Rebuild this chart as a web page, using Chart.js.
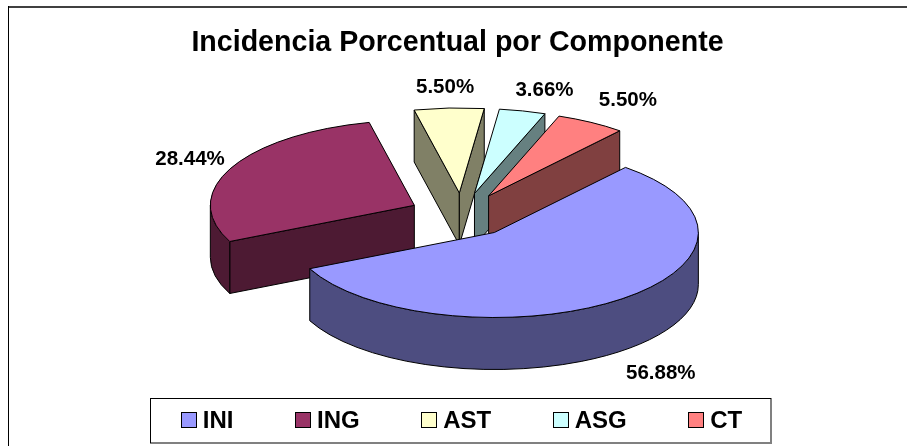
<!DOCTYPE html>
<html>
<head>
<meta charset="utf-8">
<style>html,body{margin:0;padding:0;background:#fff}canvas{display:block}</style>
<script src="https://cdn.jsdelivr.net/npm/chart.js@4"></script>
</head>
<body>
<canvas id="c" width="907" height="446"></canvas>
<script>
const categories = ['INI', 'ING', 'AST', 'ASG', 'CT'];
const percentValues = [56.88, 28.44, 5.50, 3.66, 5.50];
const sliceColors = ['#9999FF', '#993366', '#FFFFCC', '#CCFFFF', '#FF8080'];
const sideColors = ['#4D4D80', '#4D1A33', '#808066', '#668080', '#804040'];
const titleText = 'Incidencia Porcentual por Componente';

// back-to-front painting order of the slices
const paintOrder = [2, 3, 4, 1, 0];
// label placement relative to each slice's rim midpoint
const labelNudges = [[42, 73], [-41, -9], [-4, -21], [22, -21], [37, -22]];

// projection of the tilted pie
const CENTER_X = 462, CENTER_Y = 215, RADIUS_X = 204, RADIUS_Y = 85, DEPTH = 52;
const BASE_RADIUS = 154, EXPLODE = 0.26;
const LABEL_FONT = 'bold 20.5px "Liberation Sans", Arial, sans-serif';
const LEGEND_FONT = 'bold 24px "Liberation Sans", Arial, sans-serif';

// Chart.js moves an arc by offset/4 and grows its radius by offset/4 * fix,
// where fix depends on the slice's sweep.
const sweepFix = c => 1 - Math.sin(Math.min(Math.PI, c));
const sliceOffset = ctx => {
  const sweep = ctx.parsed / 100 * 2 * Math.PI;
  return 4 * EXPLODE * BASE_RADIUS / (1 - EXPLODE * sweepFix(sweep));
};

const framePlugin = {
  id: 'frame',
  beforeDraw(chart) {
    const ctx = chart.ctx;
    ctx.save();
    ctx.fillStyle = '#fff';
    ctx.fillRect(0, 0, 907, 446);
    ctx.fillStyle = '#404040';
    ctx.fillRect(8, 6, 899, 2);
    ctx.fillStyle = '#000';
    ctx.fillRect(8, 6, 1, 440);
    ctx.restore();
  }
};

const pie3dPlugin = {
  id: 'pie3d',
  beforeDatasetsDraw(chart) {
    const ctx = chart.ctx;
    const arcs = chart.getDatasetMeta(0).data;
    const visibleRadius = arc =>
      arc.outerRadius + arc.options.offset / 4 * sweepFix(arc.circumference);
    const place = arc => {
      const mid = (arc.startAngle + arc.endAngle) / 2;
      const off = (arc.options.offset / 4) / visibleRadius(arc);
      return {
        cx: CENTER_X + Math.cos(mid) * off * RADIUS_X,
        cy: CENTER_Y + Math.sin(mid) * off * RADIUS_Y,
        mid
      };
    };
    const rim = (p, a) => [p.cx + Math.cos(a) * RADIUS_X, p.cy + Math.sin(a) * RADIUS_Y];
    ctx.save();
    ctx.lineWidth = 1;
    ctx.strokeStyle = '#000';
    ctx.lineJoin = 'round';
    paintOrder.forEach(i => {
      const arc = arcs[i], p = place(arc);
      const a1 = arc.startAngle, a2 = arc.endAngle;
      ctx.fillStyle = sideColors[i];
      // flat cut faces that look towards the viewer
      const faces = [];
      if (Math.cos(a1) < 0) faces.push(a1);
      if (Math.cos(a2) > 0) faces.push(a2);
      faces.forEach(a => {
        const e = rim(p, a);
        ctx.beginPath();
        ctx.moveTo(p.cx, p.cy);
        ctx.lineTo(e[0], e[1]);
        ctx.lineTo(e[0], e[1] + DEPTH);
        ctx.lineTo(p.cx, p.cy + DEPTH);
        ctx.closePath();
        ctx.fill();
        ctx.stroke();
      });
      // curved outer wall, front half only
      for (let k = -1; k <= 1; k++) {
        const lo = Math.max(a1, k * 2 * Math.PI), hi = Math.min(a2, k * 2 * Math.PI + Math.PI);
        if (hi <= lo) continue;
        ctx.beginPath();
        ctx.ellipse(p.cx, p.cy, RADIUS_X, RADIUS_Y, 0, lo, hi);
        ctx.ellipse(p.cx, p.cy + DEPTH, RADIUS_X, RADIUS_Y, 0, hi, lo, true);
        ctx.closePath();
        ctx.fill();
        ctx.stroke();
      }
      // top surface drawn by the library's own arc element, then outlined
      ctx.save();
      const v = visibleRadius(arc);
      ctx.translate(CENTER_X, CENTER_Y);
      ctx.scale(RADIUS_X / v, RADIUS_Y / v);
      ctx.translate(-arc.x, -arc.y);
      arc.draw(ctx);
      ctx.restore();
      ctx.beginPath();
      ctx.moveTo(p.cx, p.cy);
      ctx.ellipse(p.cx, p.cy, RADIUS_X, RADIUS_Y, 0, a1, a2);
      ctx.closePath();
      ctx.fillStyle = sliceColors[i];
      ctx.fill();
      ctx.stroke();
    });
    // percentage labels
    ctx.fillStyle = '#000';
    ctx.font = LABEL_FONT;
    ctx.textAlign = 'center';
    ctx.textBaseline = 'middle';
    arcs.forEach((arc, i) => {
      const p = place(arc), r = rim(p, p.mid);
      ctx.fillText(percentValues[i].toFixed(2) + '%', r[0] + labelNudges[i][0], r[1] + labelNudges[i][1]);
    });
    ctx.restore();
    return false;
  },
  afterDraw(chart) {
    const ctx = chart.ctx;
    ctx.save();
    // legend frame
    const L = 150, T = 398, R = 771, B = 443;
    ctx.fillStyle = '#fff';
    ctx.fillRect(L, T, R - L, B - T);
    ctx.fillStyle = '#808080';
    ctx.fillRect(L, B - 1, R - L + 1, 2);
    ctx.fillRect(R - 1, T, 2, B - T);
    ctx.fillStyle = '#000';
    ctx.fillRect(L, T, R - L, 1);
    ctx.fillRect(L, T, 1, B - T);
    // legend entries
    ctx.font = LEGEND_FONT;
    ctx.textBaseline = 'middle';
    ctx.textAlign = 'left';
    const box = 16, gap = 6, pad = 61.5;
    const widths = categories.map(c => ctx.measureText(c).width);
    const total = widths.reduce((s, w) => s + w + box + gap, 0) + pad * (categories.length - 1);
    let x = (L + R) / 2 + 1 - total / 2;
    categories.forEach((c, i) => {
      const bx = Math.round(x);
      ctx.fillStyle = sliceColors[i];
      ctx.fillRect(bx + 0.5, 412.5, box - 1, box - 1);
      ctx.strokeStyle = '#000';
      ctx.lineWidth = 1;
      ctx.strokeRect(bx + 0.5, 412.5, box - 1, box - 1);
      ctx.fillStyle = '#000';
      ctx.fillText(c, x + box + gap, 421.5);
      x += box + gap + widths[i] + pad;
    });
    ctx.restore();
  }
};

new Chart(document.getElementById('c'), {
  type: 'pie',
  data: {
    labels: categories,
    datasets: [{
      data: percentValues,
      backgroundColor: sliceColors,
      borderWidth: 0,
      offset: sliceOffset
    }]
  },
  options: {
    responsive: false,
    animation: false,
    rotation: 40,
    radius: BASE_RADIUS,
    layout: { padding: { left: 8, right: 0, top: 0, bottom: 0 } },
    plugins: {
      legend: { display: false },
      tooltip: { enabled: false },
      title: {
        display: true,
        text: titleText,
        color: '#000',
        font: { family: '"Liberation Sans", Arial, sans-serif', size: 28.6, weight: 'bold' },
        padding: { top: 26, bottom: 10 }
      }
    }
  },
  plugins: [framePlugin, pie3dPlugin]
});
</script>
</body>
</html>
